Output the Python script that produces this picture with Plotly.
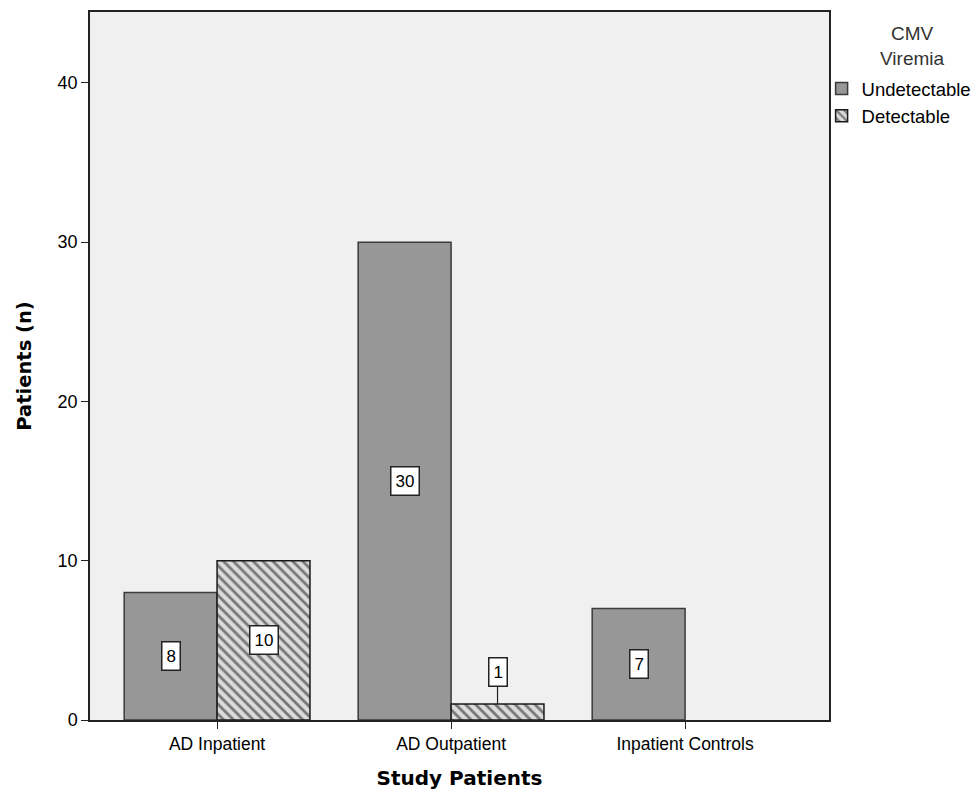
import plotly.graph_objects as go

categories = ["AD Inpatient", "AD Outpatient", "Inpatient Controls"]
undetectable = [8, 30, 7]
detectable = [10, 1, None]
y_ticks = [0, 10, 20, 30, 40]
legend_title = "CMV<br>Viremia"

x_pos = list(range(len(categories)))
bar_w = 0.397
label_font = dict(size=17, color="black", family="Liberation Sans, Arial")

fig = go.Figure()
fig.add_trace(go.Bar(
    x=x_pos, y=undetectable, name="Undetectable", width=bar_w,
    offset=-bar_w,
    marker=dict(color="#979797", line=dict(color="#3a3a3a", width=1.5)),
))
fig.add_trace(go.Bar(
    x=x_pos, y=detectable, name="Detectable", width=bar_w,
    offset=0,
    marker=dict(color="#dcdcdc", line=dict(color="#1a1a1a", width=1.5),
                pattern=dict(shape="\\", fgcolor="#111111", bgcolor="#dcdcdc",
                             size=7, solidity=0.4)),
))

annotations = []
for i, v in enumerate(undetectable):
    if v:
        annotations.append(dict(x=x_pos[i] - bar_w / 2, y=v / 2, text=str(v),
                                showarrow=False, bgcolor="white", bordercolor="#222",
                                borderwidth=1.5, borderpad=4, font=label_font))
for i, v in enumerate(detectable):
    if v is None or v == 0:
        continue
    if v >= 3:
        annotations.append(dict(x=x_pos[i] + bar_w / 2, y=v / 2, text=str(v),
                                showarrow=False, bgcolor="white", bordercolor="#222",
                                borderwidth=1.5, borderpad=4, font=label_font))
    else:
        annotations.append(dict(x=x_pos[i] + bar_w / 2, y=v, text=str(v),
                                showarrow=True, arrowhead=0, arrowwidth=1.2, arrowcolor="#222",
                                ax=0, ay=-32, bgcolor="white", bordercolor="#222",
                                borderwidth=1.5, borderpad=4, font=label_font))

annotations.append(dict(x=1.1123, y=0.952, xref="paper", yref="paper",
                        xanchor="center", yanchor="middle",
                        text=legend_title, showarrow=False, align="center",
                        font=dict(size=19, color="#333", family="Liberation Sans, Arial")))

fig.update_layout(
    width=978, height=795,
    margin=dict(l=90, r=149, t=12, b=75, autoexpand=False),
    plot_bgcolor="#f0f0f0", paper_bgcolor="white",
    font=dict(family="Liberation Sans, Arial", size=18, color="black"),
    barmode="overlay",
    annotations=annotations,
    showlegend=True,
    legend=dict(
        x=0.99, xanchor="left", y=0.918, yanchor="top",
        font=dict(size=18.5, color="black"),
        bgcolor="rgba(0,0,0,0)", itemwidth=30, tracegroupgap=0,
    ),
    xaxis=dict(
        tickmode="array", tickvals=x_pos, ticktext=categories,
        range=[-0.543, 2.615], showgrid=False, zeroline=False,
        ticks="outside", ticklen=7, tickcolor="#222", automargin=False,
        showline=True, linecolor="#222", linewidth=1.5, mirror=True,
        tickfont=dict(size=17.5),
        title=dict(text="<b>Study Patients</b>",
                   font=dict(size=20, family="DejaVu Sans"), standoff=18),
    ),
    yaxis=dict(
        range=[0, 44.45], tickvals=y_ticks, showgrid=False, zeroline=False,
        ticks="outside", ticklen=7, tickcolor="#222", automargin=False,
        showline=True, linecolor="#222", linewidth=1.5, mirror=True,
        tickfont=dict(size=18),
        title=dict(text="<b>Patients (n)</b>",
                   font=dict(size=19.5, family="DejaVu Sans"), standoff=21),
    ),
)

fig.write_html("out.html", config={"displayModeBar": False},
               post_script="document.body.style.margin='0';")
